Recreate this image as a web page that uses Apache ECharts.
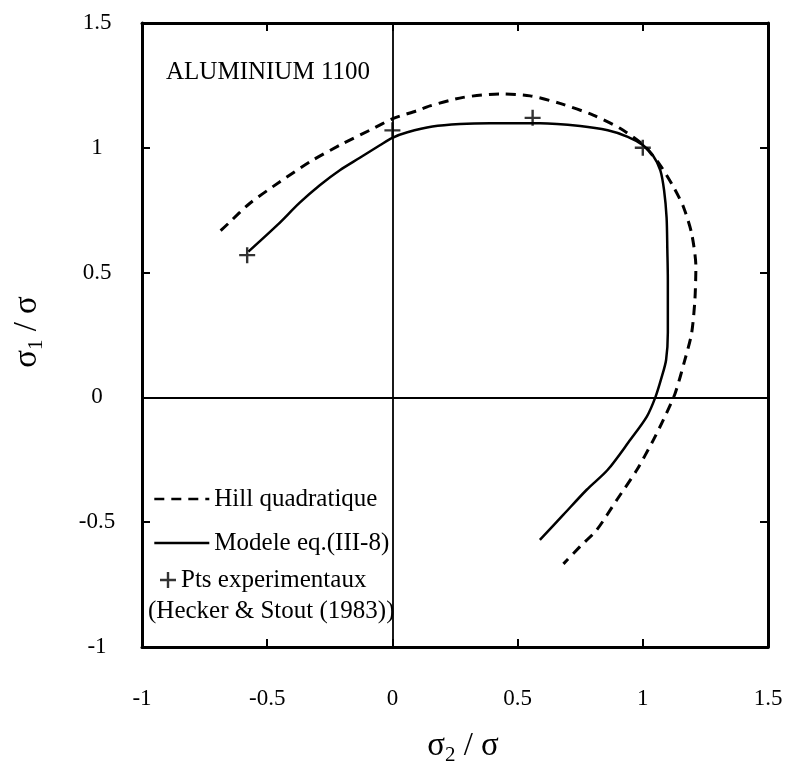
<!DOCTYPE html>
<html>
<head>
<meta charset="utf-8">
<script src="https://cdn.jsdelivr.net/npm/echarts@6/dist/echarts.min.js"></script>
<style>
html,body{margin:0;padding:0;background:#fff;}
#chart{width:791px;height:765px;}
</style>
</head>
<body>
<div id="chart"></div>
<script>
// ---- data ----
const xTickLabels = ['-1', '-0.5', '0', '0.5', '1', '1.5'];
const yTickLabels = ['-1', '-0.5', '0', '0.5', '1', '1.5'];

const hillPoints = [
  [-0.686, 0.668], [-0.655, 0.697], [-0.569, 0.778], [-0.449, 0.864], [-0.329, 0.944],
  [-0.209, 1.011], [-0.089, 1.071], [0.004, 1.118], [0.097, 1.148], [0.15, 1.168],
  [0.283, 1.202], [0.43, 1.216], [0.55, 1.208], [0.669, 1.178], [0.802, 1.131],
  [0.909, 1.078], [1.002, 1.011], [1.069, 0.931], [1.122, 0.844], [1.162, 0.764],
  [1.195, 0.657], [1.212, 0.524], [1.208, 0.39], [1.195, 0.257], [1.168, 0.15],
  [1.129, 0.016], [1.082, -0.09], [1.042, -0.171], [0.976, -0.291], [0.896, -0.411],
  [0.816, -0.531], [0.749, -0.598], [0.683, -0.667]
];

const modelPoints = [
  [-0.575, 0.584], [-0.46, 0.69], [-0.37, 0.78], [-0.29, 0.85], [-0.21, 0.91],
  [-0.13, 0.96], [-0.05, 1.01], [0.0, 1.04], [0.06, 1.062], [0.16, 1.085],
  [0.27, 1.095], [0.39, 1.098], [0.59, 1.098], [0.75, 1.087], [0.86, 1.07],
  [0.94, 1.044], [1.0, 1.011], [1.04, 0.97], [1.07, 0.91], [1.085, 0.83],
  [1.095, 0.72], [1.098, 0.59], [1.1, 0.47], [1.1, 0.39], [1.1, 0.26],
  [1.093, 0.15], [1.075, 0.08], [1.05, 0.0], [1.016, -0.077], [0.95, -0.17],
  [0.86, -0.29], [0.776, -0.37], [0.683, -0.47], [0.589, -0.571]
];

const expPoints = [[-0.58, 0.57], [0.0, 1.07], [0.56, 1.12], [1.0, 1.0]];

const seriesNames = ['Hill quadratique', 'Modele eq.(III-8)', 'Pts experimentaux'];
const sourceNote = '(Hecker & Stout (1983))';
const materialLabel = 'ALUMINIUM 1100';

// ---- chart ----
const FONT = '"Liberation Serif", "Times New Roman", serif';
const chart = echarts.init(document.getElementById('chart'), null, {renderer: 'canvas'});

const plusPath = 'path://M6.8,0H9.2V16H6.8ZM0,6.8H16V9.2H0Z';

function axisCommon(pos, showLabels, labels) {
  return {
    type: 'value',
    position: pos,
    min: -1,
    max: 1.5,
    interval: 0.5,
    splitLine: {show: false},
    axisLine: {show: true, onZero: false, lineStyle: {color: '#000', width: 3}},
    axisTick: {show: true, inside: true, length: 8, lineStyle: {color: '#000', width: 2}},
    axisLabel: {
      show: showLabels,
      color: '#000',
      fontFamily: FONT,
      fontSize: 23,
      formatter: function (v) {
        const i = Math.round((v + 1) / 0.5);
        return labels[i] !== undefined ? labels[i] : '';
      }
    }
  };
}

const xBottom = axisCommon('bottom', true, xTickLabels);
xBottom.axisLabel.margin = 40;
const xTop = axisCommon('top', false, xTickLabels);
const yLeft = axisCommon('left', true, yTickLabels);
yLeft.axisLabel.margin = 45;
yLeft.axisLabel.align = 'center';
const yRight = axisCommon('right', false, yTickLabels);

const option = {
  backgroundColor: '#fff',
  animation: false,
  grid: {left: 142, top: 23, right: 23, bottom: 118, containLabel: false},
  xAxis: [xBottom, xTop],
  yAxis: [yLeft, yRight],
  legend: [
    {
      data: [seriesNames[0], seriesNames[1]],
      orient: 'vertical',
      left: 148,
      top: 481,
      itemWidth: 55,
      itemHeight: 14,
      itemGap: 18,
      selectedMode: false,
      itemStyle: {color: 'rgba(0,0,0,0)', borderColor: 'rgba(0,0,0,0)', borderWidth: 0},
      lineStyle: {width: 2.6},
      textStyle: {color: '#000', fontFamily: FONT, fontSize: 25, lineHeight: 26}
    },
    {
      data: [seriesNames[2]],
      orient: 'vertical',
      left: 155,
      top: 562,
      itemWidth: 16,
      itemHeight: 16,
      selectedMode: false,
      textStyle: {color: '#000', fontFamily: FONT, fontSize: 25, lineHeight: 26}
    }
  ],
  graphic: [
    {
      type: 'text', x: 268, y: 72, silent: true,
      style: {text: materialLabel, fill: '#000', font: '25px ' + FONT, align: 'center', verticalAlign: 'middle'}
    },
    {
      type: 'text', x: 148, y: 611, silent: true,
      style: {text: sourceNote, fill: '#000', font: '25px ' + FONT, align: 'left', verticalAlign: 'middle'}
    },
    {
      type: 'text', x: 463, y: 746, silent: true,
      style: {
        text: '{a|σ}{b|2}{a| / σ}',
        align: 'center', verticalAlign: 'middle',
        rich: {
          a: {fontFamily: FONT, fontSize: 33, fill: '#000', color: '#000', lineHeight: 40, verticalAlign: 'middle'},
          b: {fontFamily: FONT, fontSize: 21, fill: '#000', color: '#000', lineHeight: 20, verticalAlign: 'bottom'}
        }
      }
    },
    {
      type: 'text', x: 27, y: 332, rotation: Math.PI / 2, silent: true,
      style: {
        text: '{a|σ}{b|1}{a| / σ}',
        align: 'center', verticalAlign: 'middle',
        rich: {
          a: {fontFamily: FONT, fontSize: 33, fill: '#000', color: '#000', lineHeight: 40, verticalAlign: 'middle'},
          b: {fontFamily: FONT, fontSize: 21, fill: '#000', color: '#000', lineHeight: 20, verticalAlign: 'bottom'}
        }
      }
    }
  ],
  series: [
    {
      name: seriesNames[0],
      type: 'line',
      data: hillPoints,
      smooth: 0.25,
      symbol: 'none',
      lineStyle: {color: '#000', width: 3, type: [10, 7]},
      itemStyle: {color: '#000'},
      z: 3
    },
    {
      name: seriesNames[1],
      type: 'line',
      data: modelPoints,
      smooth: 0.3,
      symbol: 'none',
      lineStyle: {color: '#000', width: 2.5, type: 'solid'},
      itemStyle: {color: '#000'},
      z: 3,
      markLine: {
        silent: true,
        symbol: ['none', 'none'],
        label: {show: false},
        lineStyle: {color: '#000', width: 1.8, type: 'solid'},
        data: [{xAxis: 0}, {yAxis: 0}]
      }
    },
    {
      name: seriesNames[2],
      type: 'scatter',
      data: expPoints,
      symbol: plusPath,
      symbolSize: 16,
      itemStyle: {color: '#000'},
      z: 4
    }
  ]
};

chart.setOption(option);
</script>
</body>
</html>
